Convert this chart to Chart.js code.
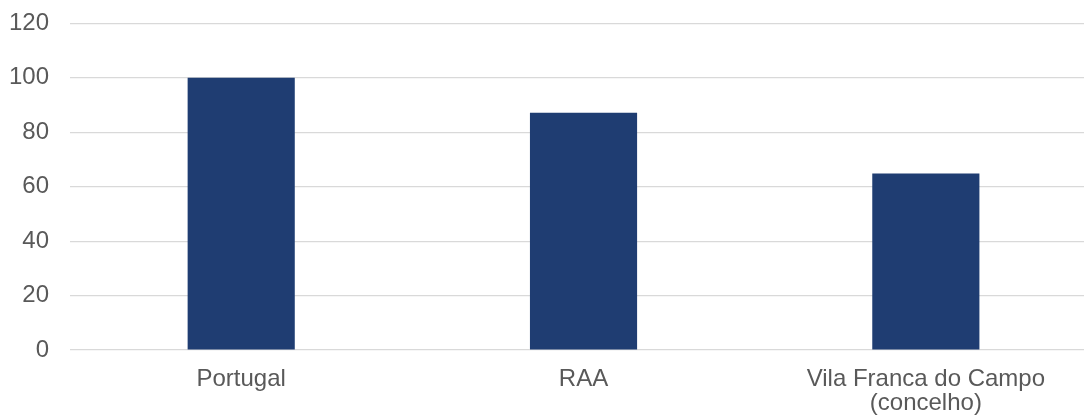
<!DOCTYPE html>
<html>
<head>
<meta charset="utf-8">
<script src="https://cdn.jsdelivr.net/npm/chart.js@4.4.0/dist/chart.umd.min.js"></script>
<style>
  html, body { margin: 0; padding: 0; background: #ffffff; overflow: hidden; }
  #wrap { width: 1112px; height: 437px; position: relative; margin-left: -12px; margin-top: -12px; }
</style>
</head>
<body>
<div id="wrap"><canvas id="grafico"></canvas></div>
<script>
const categorias = ['Portugal', 'RAA', ['Vila Franca do Campo', '(concelho)']]
const valores = [100, 87.2, 64.9]
const yMin = 0
const yMax = 120
const yPasso = 20

const grafico = document.getElementById('grafico')

Chart.defaults.color = '#595959'
Chart.defaults.font.family = '"Liberation Sans", Arial, sans-serif'
Chart.defaults.font.size = 24

new Chart(grafico, {
    type: 'bar',
    data: {
        labels: categorias,
        datasets: [{
            data: valores,
            backgroundColor: '#1f3d72',
            borderWidth: 0,
            categoryPercentage: 1,
            barPercentage: 0.313
        }]
    },
    options: {
        responsive: true,
        maintainAspectRatio: false,
        animation: false,
        layout: {
            padding: { left: 0, right: 3, top: 0, bottom: 0 }
        },
        plugins: {
            legend: { display: false },
            tooltip: { enabled: false }
        },
        scales: {
            x: {
                grid: { display: false },
                border: { display: false },
                ticks: {
                    padding: 9,
                    maxRotation: 0,
                    font: { lineHeight: 1.02 }
                }
            },
            y: {
                min: yMin,
                max: yMax,
                border: { display: false },
                grid: {
                    color: '#d9d9d9',
                    lineWidth: 1.3,
                    drawTicks: false
                },
                ticks: {
                    stepSize: yPasso,
                    padding: 21
                }
            }
        }
    }
})
</script>
</body>
</html>
